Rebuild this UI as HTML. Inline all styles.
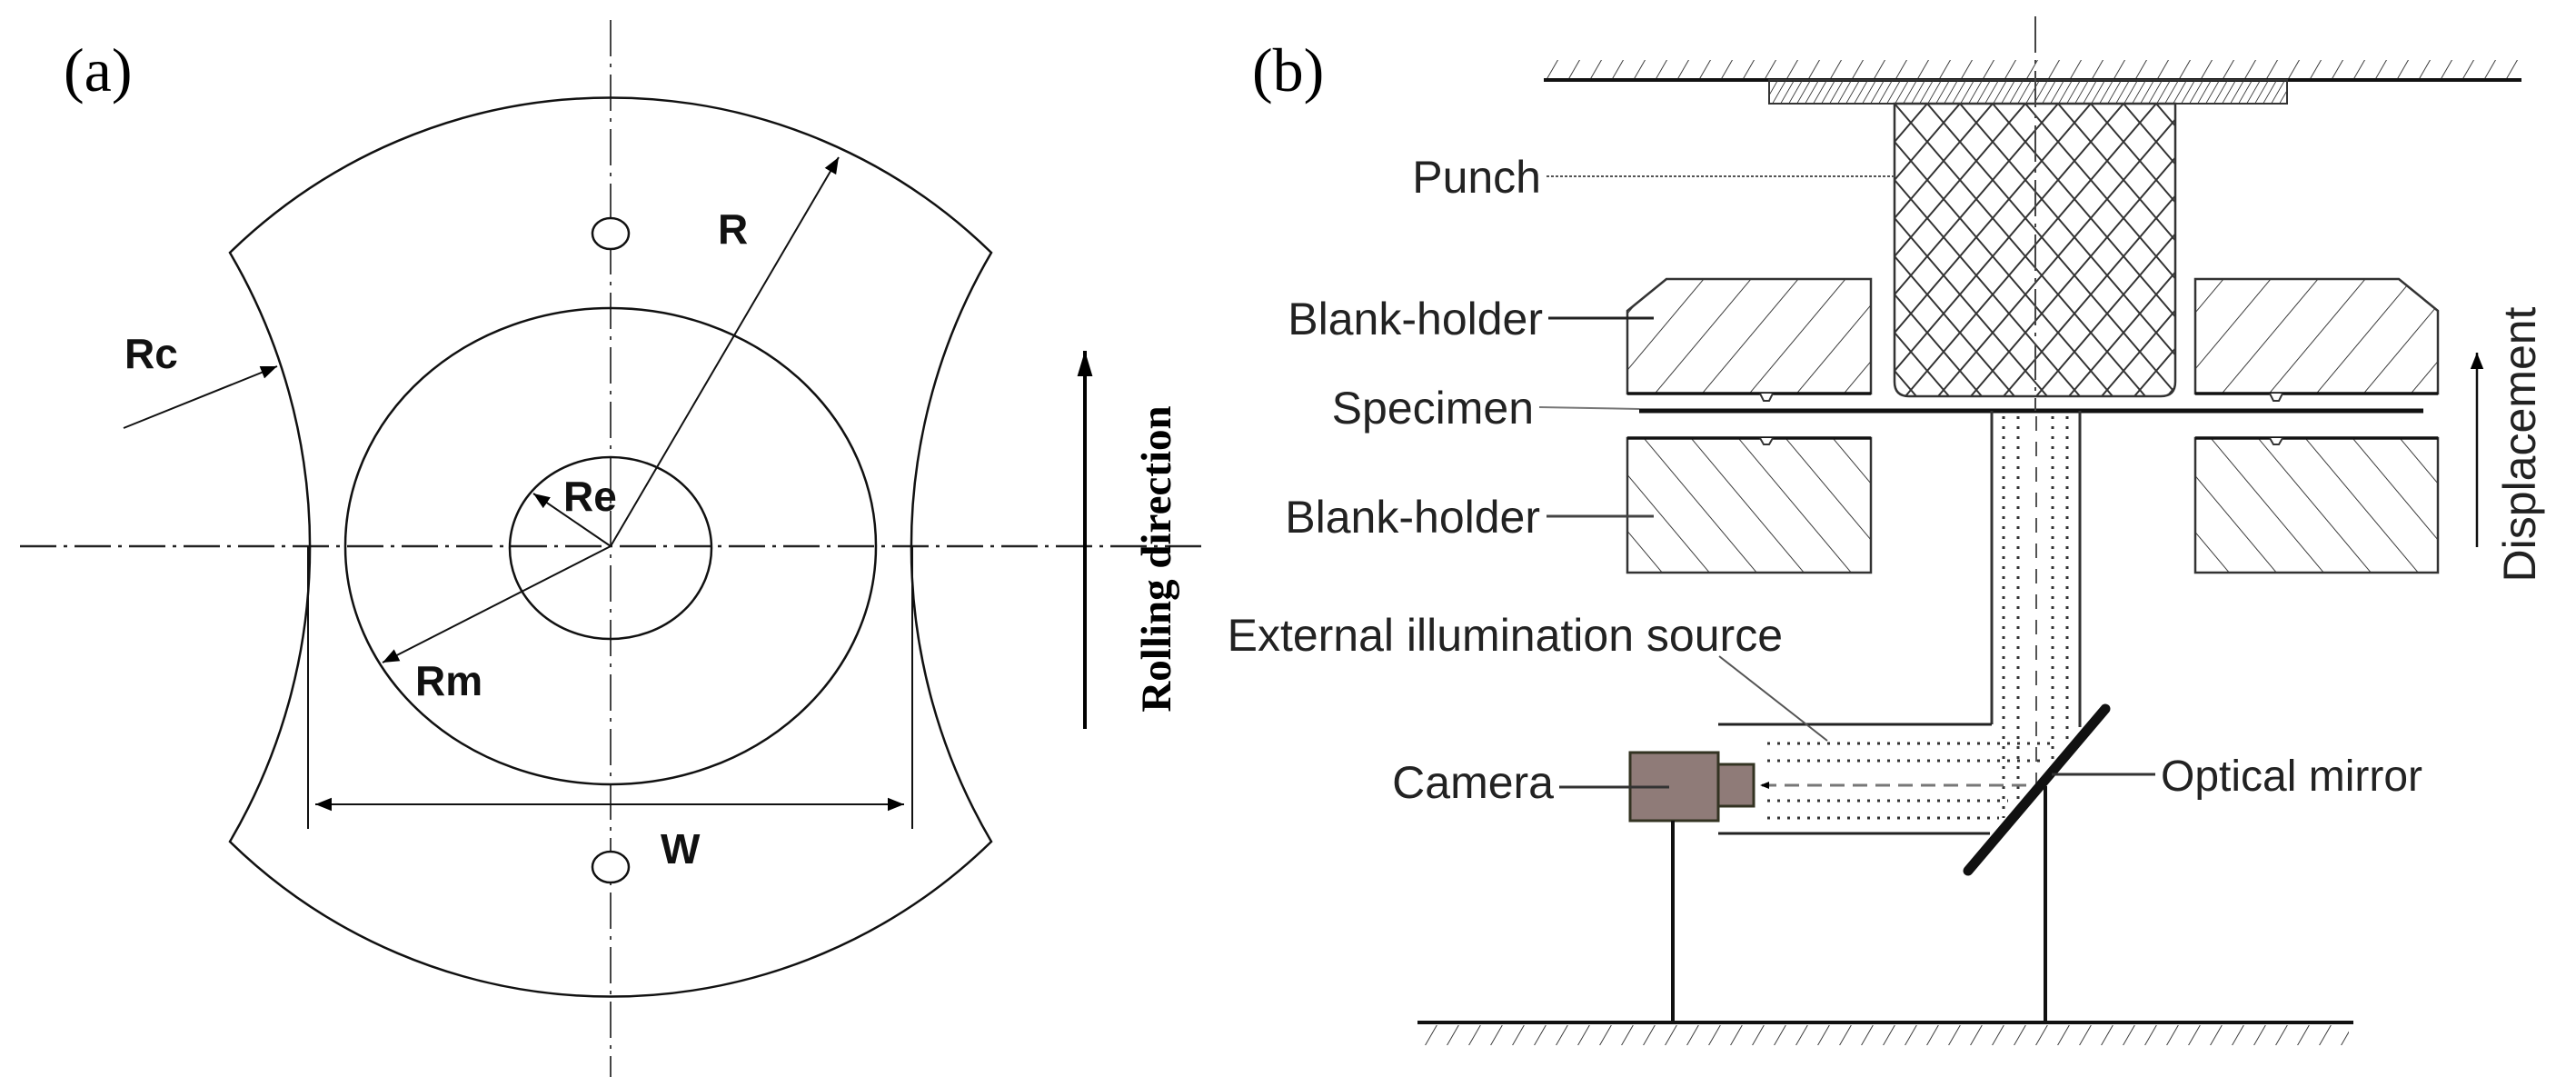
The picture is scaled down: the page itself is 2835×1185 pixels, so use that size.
<!DOCTYPE html>
<html><head><meta charset="utf-8"><style>
html,body{margin:0;padding:0;background:#fff;}
svg{display:block;}
.s{font-family:"Liberation Sans",sans-serif;}
.r{font-family:"Liberation Serif",serif;}
</style></head><body>
<svg width="2835" height="1185" viewBox="0 0 2835 1185" xmlns="http://www.w3.org/2000/svg">
<defs>
<marker id="ah" viewBox="0 0 10 10" refX="10" refY="5" markerWidth="10" markerHeight="10" markerUnits="userSpaceOnUse" orient="auto"><path d="M0,1 L10,5 L0,9 z" fill="#000"/></marker>
<marker id="ah2" viewBox="0 0 10 10" refX="10" refY="5" markerWidth="18" markerHeight="18" markerUnits="userSpaceOnUse" orient="auto"><path d="M0,1 L10,5 L0,9 z" fill="#000"/></marker>
<marker id="ah3" viewBox="0 0 10 10" refX="10" refY="5" markerWidth="28" markerHeight="28" markerUnits="userSpaceOnUse" orient="auto"><path d="M0,2 L10,5 L0,8 z" fill="#000"/></marker>
<pattern id="fw" width="52" height="62" patternUnits="userSpaceOnUse" patternTransform="skewX(-40)"><line x1="0" y1="0" x2="0" y2="62" stroke="#333" stroke-width="2.5"/></pattern>
<pattern id="bw" width="52" height="62" patternUnits="userSpaceOnUse" patternTransform="skewX(40)"><line x1="0" y1="0" x2="0" y2="62" stroke="#333" stroke-width="2.5"/></pattern>
<pattern id="xh" width="36" height="42" patternUnits="userSpaceOnUse" x="2085" y="114"><path d="M0,0 L36,42 M36,0 L0,42" stroke="#333" stroke-width="2"/></pattern>
<pattern id="tp" width="9" height="30" patternUnits="userSpaceOnUse" patternTransform="skewX(-30)"><line x1="0" y1="0" x2="0" y2="30" stroke="#333" stroke-width="2"/></pattern>
<pattern id="gp" width="24" height="30" patternUnits="userSpaceOnUse" patternTransform="skewX(-30)"><line x1="0" y1="0" x2="0" y2="30" stroke="#333" stroke-width="2.2"/></pattern>
</defs>

<!-- Panel (a) -->
<text x="70" y="100" class="r" font-size="68">(a)</text>
<line x1="672" y1="22" x2="672" y2="1185" stroke="#444" stroke-width="2" stroke-dasharray="40,8,4,8"/>
<line x1="22" y1="601" x2="1322" y2="601" stroke="#222" stroke-width="2.5" stroke-dasharray="40,8,4,8"/>
<path d="M253,278 A600,600 0 0 1 1091,278 A640,640 0 0 0 1091,926 A600,600 0 0 1 253,926 A640,640 0 0 0 253,278 Z" fill="none" stroke="#111" stroke-width="2.5"/>
<ellipse cx="672" cy="601" rx="292" ry="262" fill="none" stroke="#111" stroke-width="2.5"/>
<ellipse cx="672" cy="603" rx="111" ry="100" fill="none" stroke="#111" stroke-width="2.5"/>
<ellipse cx="672" cy="257" rx="20" ry="17" fill="#fff" stroke="#111" stroke-width="2.5"/>
<ellipse cx="672" cy="954" rx="20" ry="17" fill="#fff" stroke="#111" stroke-width="2.5"/>
<line x1="672" y1="601" x2="923" y2="173" stroke="#111" stroke-width="2" marker-end="url(#ah2)"/>
<line x1="672" y1="601" x2="587" y2="543" stroke="#111" stroke-width="2" marker-end="url(#ah2)"/>
<line x1="672" y1="601" x2="421" y2="729" stroke="#111" stroke-width="2" marker-end="url(#ah2)"/>
<line x1="136" y1="471" x2="305" y2="403" stroke="#111" stroke-width="2" marker-end="url(#ah2)"/>
<line x1="339" y1="601" x2="339" y2="912" stroke="#111" stroke-width="2"/>
<line x1="1004" y1="601" x2="1004" y2="912" stroke="#111" stroke-width="2"/>
<line x1="680" y1="885" x2="347" y2="885" stroke="#111" stroke-width="2" marker-end="url(#ah2)"/>
<line x1="680" y1="885" x2="995" y2="885" stroke="#111" stroke-width="2" marker-end="url(#ah2)"/>
<g class="s" font-size="46" font-weight="bold" fill="#111">
<text x="790" y="268">R</text>
<text x="620" y="562">Re</text>
<text x="457" y="765">Rm</text>
<text x="137" y="405">Rc</text>
<text x="727" y="950">W</text>
</g>
<line x1="1194" y1="802" x2="1194" y2="386" stroke="#000" stroke-width="4" marker-end="url(#ah3)"/>
<text transform="translate(1288,615) rotate(-90)" text-anchor="middle" class="r" font-size="47" font-weight="bold">Rolling direction</text>

<!-- Panel (b) -->
<text x="1378" y="100" class="r" font-size="68">(b)</text>
<rect x="1699" y="66" width="1076" height="20" fill="url(#gp)"/>
<line x1="1699" y1="88" x2="2775" y2="88" stroke="#111" stroke-width="4"/>
<rect x="1947" y="88" width="570" height="26" fill="url(#tp)" stroke="#333" stroke-width="2"/>
<path d="M2085,114 H2394 V420 Q2394,436 2378,436 H2101 Q2085,436 2085,420 Z" fill="url(#xh)" stroke="#333" stroke-width="2.5"/>
<path d="M1834,307 H2059 V433 H1791 V342 Z" fill="url(#fw)" stroke="#333" stroke-width="2.5"/>
<path d="M2416,307 H2640 L2683,342 V433 H2416 Z" fill="url(#fw)" stroke="#333" stroke-width="2.5"/>
<line x1="1791" y1="433" x2="2059" y2="433" stroke="#111" stroke-width="3.5"/>
<line x1="2416" y1="433" x2="2683" y2="433" stroke="#111" stroke-width="3.5"/>
<line x1="1804" y1="452" x2="2667" y2="452" stroke="#111" stroke-width="5"/>
<rect x="1791" y="482" width="268" height="148" fill="url(#bw)" stroke="#333" stroke-width="2.5"/>
<rect x="2416" y="482" width="267" height="148" fill="url(#bw)" stroke="#333" stroke-width="2.5"/>
<line x1="1791" y1="482" x2="2059" y2="482" stroke="#111" stroke-width="3.5"/>
<line x1="2416" y1="482" x2="2683" y2="482" stroke="#111" stroke-width="3.5"/>
<path d="M1937,433 l4,8 h6 l4,-8" fill="#fff" stroke="#333" stroke-width="2"/>
<path d="M1937,482 l4,7 h6 l4,-7" fill="#fff" stroke="#333" stroke-width="2"/>
<path d="M2498,433 l4,8 h6 l4,-8" fill="#fff" stroke="#333" stroke-width="2"/>
<path d="M2498,482 l4,7 h6 l4,-7" fill="#fff" stroke="#333" stroke-width="2"/>
<line x1="2240" y1="18" x2="2240" y2="452" stroke="#444" stroke-width="2" stroke-dasharray="40,8,4,8"/>
<line x1="2192" y1="452" x2="2192" y2="797" stroke="#333" stroke-width="3"/>
<line x1="2289" y1="452" x2="2289" y2="800" stroke="#333" stroke-width="3"/>
<g stroke="#333" stroke-width="3" stroke-dasharray="3,8">
<line x1="2205" y1="458" x2="2205" y2="900"/>
<line x1="2221" y1="458" x2="2221" y2="890"/>
<line x1="2259" y1="458" x2="2259" y2="840"/>
<line x1="2275" y1="458" x2="2275" y2="820"/>
<line x1="1945" y1="818" x2="2260" y2="818"/>
<line x1="1945" y1="837" x2="2245" y2="837"/>
<line x1="1945" y1="881" x2="2210" y2="881"/>
<line x1="1945" y1="900" x2="2200" y2="900"/>
</g>
<line x1="2241" y1="458" x2="2241" y2="862" stroke="#555" stroke-width="2" stroke-dasharray="16,12"/>
<line x1="1891" y1="797" x2="2192" y2="797" stroke="#222" stroke-width="3"/>
<line x1="1891" y1="917" x2="2190" y2="917" stroke="#222" stroke-width="3"/>
<line x1="2230" y1="864" x2="1937" y2="864" stroke="#777" stroke-width="3" stroke-dasharray="16,9" marker-end="url(#ah)"/>
<line x1="2166" y1="958" x2="2317" y2="780" stroke="#111" stroke-width="11" stroke-linecap="round"/>
<rect x="1794" y="828" width="97" height="75" fill="#8f7b78" stroke="#332" stroke-width="3"/>
<rect x="1891" y="841" width="39" height="46" fill="#8f7b78" stroke="#332" stroke-width="3"/>
<line x1="1841" y1="903" x2="1841" y2="1125" stroke="#111" stroke-width="4"/>
<line x1="2251" y1="865" x2="2251" y2="1125" stroke="#111" stroke-width="4"/>
<line x1="1560" y1="1125" x2="2590" y2="1125" stroke="#111" stroke-width="4"/>
<rect x="1565" y="1128" width="1020" height="22" fill="url(#gp)"/>
<line x1="2726" y1="602" x2="2726" y2="388" stroke="#111" stroke-width="2.5" marker-end="url(#ah2)"/>
<text transform="translate(2790,489) rotate(-90)" text-anchor="middle" class="s" font-size="50" fill="#222">Displacement</text>
<g class="s" font-size="50" fill="#222" text-anchor="end">
<text x="1696" y="212">Punch</text>
<text x="1698" y="368">Blank-holder</text>
<text x="1688" y="466">Specimen</text>
<text x="1695" y="586">Blank-holder</text>
<text x="1962" y="716">External illumination source</text>
<text x="1710" y="878">Camera</text>
</g>
<text x="2378" y="870" class="s" font-size="48" fill="#222">Optical mirror</text>
<line x1="1702" y1="194" x2="2085" y2="194" stroke="#555" stroke-width="2" stroke-dasharray="3,2"/>
<line x1="1704" y1="350" x2="1820" y2="350" stroke="#222" stroke-width="3"/>
<line x1="1694" y1="448" x2="1804" y2="450" stroke="#777" stroke-width="2"/>
<line x1="1702" y1="568" x2="1820" y2="568" stroke="#444" stroke-width="3"/>
<line x1="1892" y1="722" x2="2011" y2="815" stroke="#555" stroke-width="2"/>
<line x1="1716" y1="866" x2="1837" y2="866" stroke="#333" stroke-width="3"/>
<line x1="2258" y1="852" x2="2372" y2="852" stroke="#333" stroke-width="3"/>
</svg>
</body></html>
